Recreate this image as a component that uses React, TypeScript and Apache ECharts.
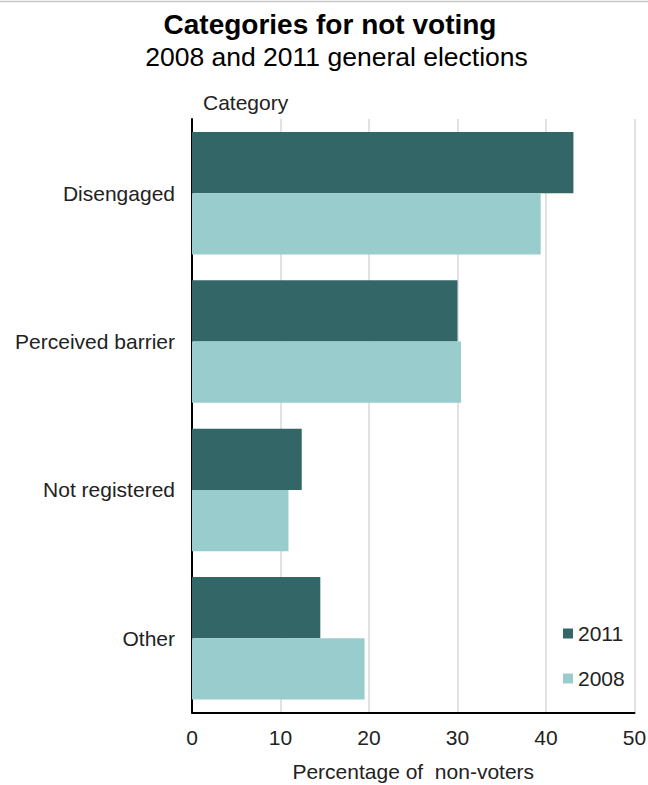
import React, { useEffect, useRef } from "react";
import * as echarts from "echarts";

const categories = ["Disengaged", "Perceived barrier", "Not registered", "Other"];
const values2011 = [43.1, 30.0, 12.4, 14.5];
const values2008 = [39.4, 30.4, 10.9, 19.5];
const seriesNames = ["2011", "2008"];
const xTicks = { min: 0, max: 50, interval: 10 };

const FONT = "'Liberation Sans', Arial, Helvetica, sans-serif";

export default function App() {
  const ref = useRef<HTMLDivElement>(null);
  useEffect(() => {
    document.body.style.margin = "0";
    const chart = echarts.init(ref.current!, null, { renderer: "svg" });
    chart.setOption({
      animation: false,
      backgroundColor: "#ffffff",
      textStyle: { fontFamily: FONT },
      graphic: [
        { type: "line", shape: { x1: 0, y1: 1.5, x2: 648, y2: 1.5 }, style: { stroke: "#c8c8c8", lineWidth: 1.5 } },
        {
          type: "text", x: 330, y: 24,
          style: { text: "Categories for not voting", font: `bold 28px ${FONT}`, fill: "#000", textAlign: "center", textVerticalAlign: "middle" },
        },
        {
          type: "text", x: 336.5, y: 57,
          style: { text: "2008 and 2011 general elections", font: `26.5px ${FONT}`, fill: "#000", textAlign: "center", textVerticalAlign: "middle" },
        },
        {
          type: "text", x: 203, y: 102,
          style: { text: "Category", font: `21px ${FONT}`, fill: "#222", textAlign: "left", textVerticalAlign: "middle" },
        },
      ],
      legend: {
        orient: "vertical",
        left: 563,
        top: 623,
        padding: 0,
        itemWidth: 10,
        itemHeight: 10,
        itemGap: 24,
        icon: "rect",
        data: seriesNames,
        textStyle: { fontSize: 21, color: "#222", fontFamily: FONT },
      },
      grid: { left: 192, right: 13.5, top: 119, bottom: 72.5, containLabel: false, outerBoundsMode: "none" },
      xAxis: {
        type: "value",
        min: xTicks.min,
        max: xTicks.max,
        interval: xTicks.interval,
        axisLine: { show: true, lineStyle: { color: "#000", width: 2 } },
        axisTick: { show: false },
        splitLine: { show: true, lineStyle: { color: "#d9d9d9", width: 1.5 } },
        axisLabel: { fontSize: 21, color: "#222", margin: 14, fontFamily: FONT },
        name: "Percentage of  non-voters",
        nameLocation: "middle",
        nameGap: 48,
        nameTextStyle: { fontSize: 21, color: "#222", fontFamily: FONT },
      },
      yAxis: {
        type: "category",
        inverse: true,
        data: categories,
        axisLine: { show: true, lineStyle: { color: "#000", width: 2 } },
        axisTick: { show: false },
        splitLine: { show: false },
        axisLabel: { fontSize: 21, color: "#222", margin: 17, fontFamily: FONT },
      },
      series: [
        {
          name: seriesNames[0],
          type: "bar",
          data: values2011,
          barGap: "0%",
          barCategoryGap: "17.4%",
          itemStyle: { color: "#336666" },
        },
        {
          name: seriesNames[1],
          type: "bar",
          data: values2008,
          barGap: "0%",
          barCategoryGap: "17.4%",
          itemStyle: { color: "#99cccc" },
        },
      ],
    });
    return () => chart.dispose();
  }, []);
  return <div ref={ref} style={{ width: 648, height: 785 }} />;
}
